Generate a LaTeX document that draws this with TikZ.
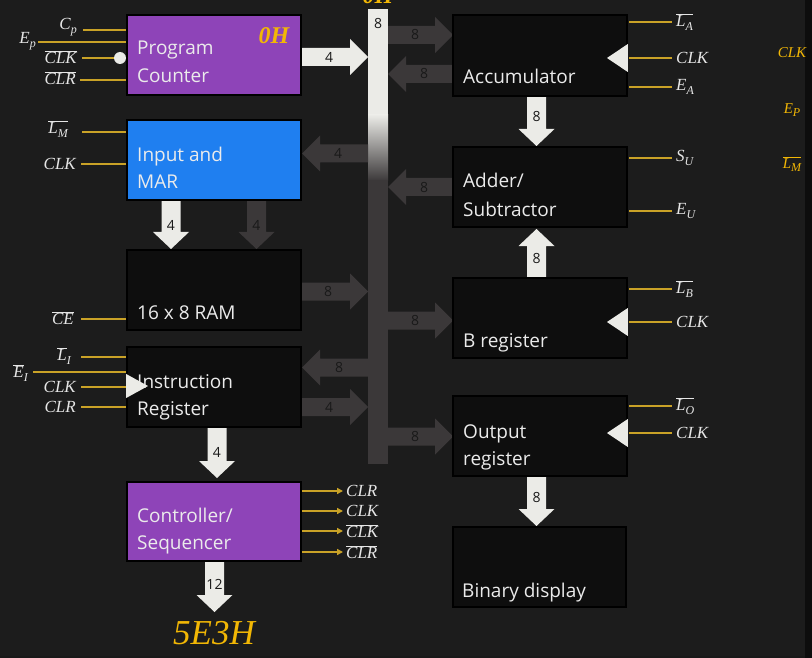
\RequirePackage{fix-cm}
\documentclass[tikz,border=0pt]{standalone}
\usepackage{fontspec}
\setsansfont{Open Sans}
\newfontfamily\lf{Liberation Serif}
\usetikzlibrary{arrows.meta}
\definecolor{bg}{HTML}{1C1C1C}
\definecolor{pcpurple}{HTML}{8E44B8}
\definecolor{marblue}{HTML}{1F7FF0}
\definecolor{boxblack}{HTML}{0E0E0E}
\definecolor{arrwhite}{HTML}{EBEBE7}
\definecolor{arrdark}{HTML}{3B3839}
\definecolor{sigcol}{HTML}{C9A227}
\definecolor{gold}{HTML}{F2B705}
\definecolor{lbltext}{HTML}{E6E6E6}
\newcommand\HArr[6]{%
  \pgfmathsetmacro\hb{#3-18*sign(#3-#2)}%
  \fill[#1] (#2,#4-9) -- (\hb,#4-9) -- (\hb,#4-18) -- (#3,#4) -- (\hb,#4+18) -- (\hb,#4+9) -- (#2,#4+9) -- cycle;
  \node[arrlbl] at (#6,#4) {#5};}
\newcommand\VArr[6]{%
  \pgfmathsetmacro\vb{#4-17*sign(#4-#3)}%
  \fill[#1] (#2-9.5,#3) -- (#2-9.5,\vb) -- (#2-18,\vb) -- (#2,#4) -- (#2+18,\vb) -- (#2+9.5,\vb) -- (#2+9.5,#3) -- cycle;
  \node[arrlbl] at (#2,#6) {#5};}
\newcommand\ov[1]{$\overline{\mbox{#1}}$}
\newcommand\sbs[2]{#1\raisebox{-0.45ex}{\fontsize{12}{12}\selectfont #2}}
\begin{document}
\begin{tikzpicture}[x=1pt,y=-1pt,
  box/.style={draw=black,line width=1.6pt,minimum width=174pt,minimum height=80pt,inner sep=0pt},
  btxt/.style={anchor=base west,text=white!92!black,font=\sffamily\fontsize{19}{22}\selectfont,inner sep=0pt},
  arrlbl/.style={text=black!90,font=\sffamily\fontsize{14}{16}\selectfont,inner sep=0pt},
  mlbl/.style={text=lbltext,font=\lf\itshape\fontsize{17}{20}\selectfont,inner sep=0pt},
  glbl/.style={text=gold,font=\lf\itshape\fontsize{15}{18}\selectfont,inner sep=0pt},
  sig/.style={draw=sigcol,line width=1.4pt},
  clk/.style={fill=arrwhite}]
\useasboundingbox (0,0) rectangle (812,658);
\fill[bg] (0,0) rectangle (812,658);
\fill[black!95] (805,0) rectangle (812,658);
\fill[black!90] (0,656) rectangle (805,658);
% top label (cut off as in the reference)
\node[anchor=base,text=gold,font=\lf\bfseries\itshape\fontsize{24}{24}\selectfont,inner sep=0pt] (toph) at (378,4) {0H};
% bus
\fill[arrwhite] (368,9) rectangle (388,116);
\shade[top color=arrwhite,bottom color=arrdark] (368,115) rectangle (388,181);
\fill[arrdark] (368,180) rectangle (388,464);
\node[arrlbl] (bus8) at (378,24) {8};
% white arrows
\HArr{arrwhite}{301}{368}{57}{4}{329}
\VArr{arrwhite}{171}{200}{249}{4}{225}
\VArr{arrwhite}{217}{428}{478}{4}{452}
\VArr{arrwhite}{214.5}{562}{612}{12}{584}
\VArr{arrwhite}{536.5}{97}{146}{8}{117}
\VArr{arrwhite}{536.5}{278}{229}{8}{258}
\VArr{arrwhite}{536.5}{477}{526}{8}{497}
% dark arrows
\VArr{arrdark}{256.5}{200}{249}{4}{225}
\HArr{arrdark}{388}{453}{35}{8}{415}
\HArr{arrdark}{453}{388}{74}{8}{424}
\HArr{arrdark}{368}{302}{153.5}{4}{338}
\HArr{arrdark}{453}{388}{187}{8}{424}
\HArr{arrdark}{301}{368}{291.5}{8}{328}
\HArr{arrdark}{388}{453}{320.5}{8}{415}
\HArr{arrdark}{368}{302}{367.5}{8}{339}
\HArr{arrdark}{301}{368}{407}{4}{329}
\HArr{arrdark}{388}{453}{436.5}{8}{415}
% boxes
\node[box,fill=pcpurple] (pc) at (214,55) {};
\node[box,fill=marblue] (mar) at (214,160) {};
\node[box,fill=boxblack] (ram) at (214,290) {};
\node[box,fill=boxblack] (ir) at (214,387) {};
\node[box,fill=pcpurple,minimum height=79pt] (ctrl) at (214,521.5) {};
\node[box,fill=boxblack,minimum height=81pt] (acc) at (540,55.5) {};
\node[box,fill=boxblack] (add) at (540,187) {};
\node[box,fill=boxblack] (breg) at (540,318) {};
\node[box,fill=boxblack] (outr) at (540,436) {};
\node[box,fill=boxblack,minimum width=173pt] (disp) at (539.5,567) {};
% box texts
\node[btxt] at (137,55) {Program};
\node[btxt] at (137,83) {Counter};
\node[anchor=base,text=gold,font=\lf\bfseries\itshape\fontsize{24}{24}\selectfont,inner sep=0pt] (pcval) at (274,44) {0H};
\node[btxt] at (137,162) {Input and};
\node[btxt] at (137,189) {MAR};
\node[btxt] at (137,319) {16 x 8 RAM};
\node[btxt] at (137,388) {Instruction};
\node[btxt] at (137,415) {Register};
\node[btxt] at (137,522) {Controller/};
\node[btxt] at (137,549) {Sequencer};
\node[btxt] at (463,84) {Accumulator};
\node[btxt] at (463,188) {Adder/};
\node[btxt] at (463,216) {Subtractor};
\node[btxt] at (463,347) {B register};
\node[btxt] at (463,438) {Output};
\node[btxt] at (463,465) {register};
\node[btxt] at (462,597) {Binary display};
% clock triangles
\fill[clk] (acc.east |- 0,44) -- (607,58) -- (acc.east |- 0,72) -- cycle;
\fill[clk] (breg.east |- 0,308) -- (607,322) -- (breg.east |- 0,336) -- cycle;
\fill[clk] (outr.east |- 0,419) -- (607,433) -- (outr.east |- 0,447) -- cycle;
\fill[clk] (ir.west |- 0,374) -- (148,386) -- (ir.west |- 0,398) -- cycle;
% PC signals
\draw[sig] (83,30) -- (pc.west |- 0,30);
\draw[sig] (38,42) -- (pc.west |- 0,42);
\draw[sig] (82,58) -- (114,58);
\draw[sig] (80,80) -- (pc.west |- 0,80);
\fill[arrwhite] (120,58) circle (6);
\node[mlbl,anchor=east] at (77,27) {\sbs{C}{p}};
\node[mlbl,anchor=east] at (36,41) {\sbs{E}{p}};
\node[mlbl,anchor=east] at (77,57) {\ov{CLK}};
\node[mlbl,anchor=east] at (76,78) {\ov{CLR}};
% MAR signals
\draw[sig] (82,132) -- (mar.west |- 0,132);
\draw[sig] (81,164) -- (mar.west |- 0,164);
\node[mlbl,anchor=east] at (68,129) {\ov{\sbs{L}{M}}};
\node[mlbl,anchor=east] at (76,164) {CLK};
% RAM
\draw[sig] (81,319) -- (ram.west |- 0,319);
\node[mlbl,anchor=east] at (74,318) {\ov{CE}};
% IR signals
\draw[sig] (81,357) -- (ir.west |- 0,357);
\draw[sig] (33,372) -- (ir.west |- 0,372);
\draw[sig] (81,387) -- (ir.west |- 0,387);
\draw[sig] (81,407) -- (ir.west |- 0,407);
\node[mlbl,anchor=east] at (71,356) {\ov{L}\raisebox{-0.45ex}{\fontsize{12}{12}\selectfont I}};
\node[mlbl,anchor=east] at (28,373) {\ov{E}\raisebox{-0.45ex}{\fontsize{12}{12}\selectfont I}};
\node[mlbl,anchor=east] at (76,387) {CLK};
\node[mlbl,anchor=east] at (76,407) {CLR};
% controller outputs
\foreach \yy/\tt in {491/{CLR},511/{CLK},531/{\ov{CLK}},552/{\ov{CLR}}}{
  \draw[sig,-{Triangle[length=6pt,width=6pt]}] (ctrl.east |- 0,\yy) -- (343,\yy);
  \node[mlbl,anchor=west] at (346,\yy) {\tt};
}
\node[text=gold,font=\lf\itshape\fontsize{35}{35}\selectfont,inner sep=0pt,anchor=base] (addr) at (214,644) {5E3H};
% right box signals
\foreach \yy/\tt in {22/{\ov{\sbs{L}{A}}},58/{CLK},87/{\sbs{E}{A}},158/{\sbs{S}{U}},211/{\sbs{E}{U}},289/{\ov{\sbs{L}{B}}},322/{CLK},406/{\ov{\sbs{L}{O}}},433/{CLK}}{
  \draw[sig] (629,\yy) -- (672,\yy);
  \node[mlbl,anchor=west] at (676,\yy) {\tt};
}
% far right labels
\node[glbl] at (792,53) {CLK};
\node[glbl] at (792,110) {\sbs{E}{P}};
\node[glbl] at (792,164) {\ov{\sbs{L}{M}}};
\end{tikzpicture}
\end{document}
